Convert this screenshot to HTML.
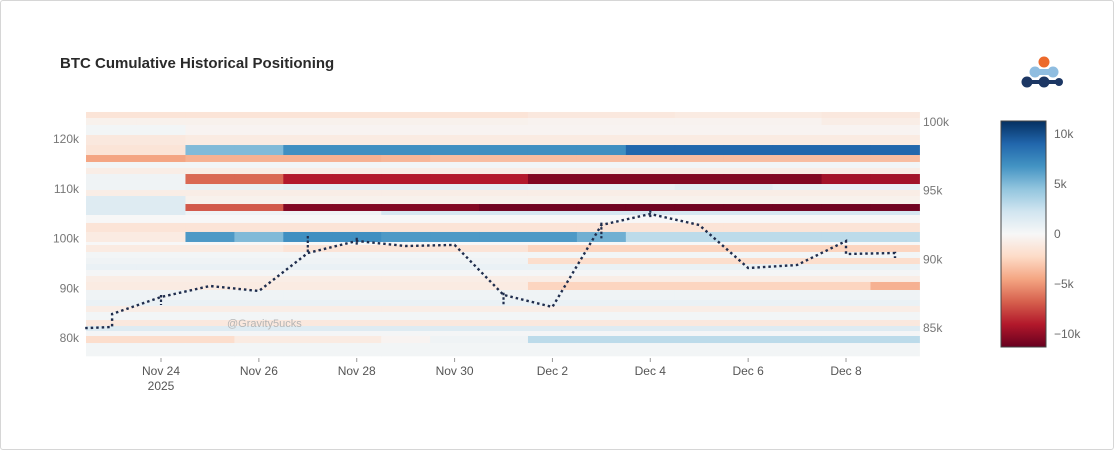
<!DOCTYPE html>
<html><head><meta charset="utf-8"><style>
html,body{margin:0;padding:0;background:#fff;}
#wrap{position:relative;width:1112px;height:448px;border:1px solid #d6d6d6;border-radius:3px;overflow:hidden;font-family:"Liberation Sans",Arial,sans-serif;}
svg text{font-family:"Liberation Sans",Arial,sans-serif;}
</style></head><body>
<div id="wrap">
<svg id="chart" width="1112" height="448"></svg>
</div>
<script>
// ---- data ----
const columnDays = [-1,0,1,2,3,4,5,6,7,8,9,10,11,12,13,14,15]; // days from Nov 24
const bandEdges = [125.43,124.22,122.81,120.80,118.79,116.78,115.38,114.17,112.96,110.95,109.75,108.54,106.93,105.53,104.72,103.12,101.31,99.30,98.69,97.29,96.08,94.87,93.67,92.46,91.26,89.65,87.64,86.43,85.23,83.62,82.41,81.41,80.40,78.99,76.38];
const bandValues = [
 [-1.5,-1.5,-1.5,-1.5,-1.5,-1.5,-1.5,-1.5,-1.5,-1.2,-1.2,-1.2,-1,-1,-1,-1.2,-1.2],
 [-0.5,-0.5,-0.5,-0.5,-0.5,-0.5,-0.5,-0.5,-0.5,-0.4,-0.4,-0.4,-0.4,-0.4,-0.4,-0.8,-0.8],
 [0.3,0.3,-0.3,-0.3,-0.3,-0.3,-0.3,-0.3,-0.3,-0.3,-0.3,-0.3,-0.3,-0.3,-0.3,-0.3,-0.3],
 [-1.2,-1.2,-1,-1,-1,-1,-1,-1,-1,-1,-1,-1,-1,-1,-1,-1,-1],
 [-1.5,-1.5,5,5,7,7,7,7,7,7,7,9,9,9,9,9,9],
 [-4.5,-4.5,-4,-4,-4,-4,-3.8,-3.5,-3.5,-3.5,-3.5,-3.5,-3.5,-3.5,-3.5,-3.5,-3.5],
 [0.3,0.3,0.3,0.3,0.3,0.3,0.3,0.3,0.3,0.3,0.3,0.3,0.3,0.3,0.3,0.3,0.3],
 [-0.8,-0.8,-0.8,-0.8,-0.8,-0.8,-0.8,-0.8,-0.8,-0.8,-0.8,-0.8,-0.8,-0.8,-0.8,-0.8,-0.8],
 [0.5,0.5,-6.5,-6.5,-9,-9,-9,-9,-9,-10.5,-10.5,-10.5,-10.5,-10.5,-10.5,-9.5,-9.5],
 [0.5,0.5,0.8,0.8,1,1,1,1,1,0.8,0.8,0.8,1.2,1.2,0.8,0.8,0.8],
 [-0.8,-0.8,-0.8,-0.8,-0.8,-0.8,-0.8,-0.8,-0.8,-0.8,-0.8,-0.8,-0.8,-0.8,-0.8,-0.8,-0.8],
 [1.5,1.5,-0.5,-0.5,-0.5,-0.5,-0.5,-0.5,-0.5,-0.5,-0.5,-0.5,-0.5,-0.5,-0.5,-0.5,-0.5],
 [1.5,1.5,-7,-7,-10.5,-10.5,-10.5,-10.5,-11,-11,-11,-11,-11,-11,-11,-11,-11],
 [1.5,1.5,0.5,0.5,0.5,0.5,2,2,2,2,2,2,2,2,2,2,2],
 [0,0,0,0,0,0,0,0,0,0,0,0,0,0,0,0,0],
 [-1.5,-1.5,-1.5,-1.5,-1.5,-1.5,-1.5,-1.5,-1.5,-1.5,-1.5,-1.5,-1.5,-1.5,-1.5,-1.5,-1.5],
 [-1,-1,6.5,5,7,7,6.5,6.5,6.5,6.5,5.5,3,3,3,3,3,3],
 [0,0,0,0,0,0,0,0,0,0,0,0,0,0,0,0,0],
 [-1,-1,-1,-1,-1.5,-1.5,-1.5,-1.5,-1.5,-2.5,-2.5,-2.5,-2.5,-2.5,-2.5,-2.5,-2.5],
 [0.3,0.3,0.3,0.3,0.3,0.3,0.3,0.3,0.3,0.3,0.3,0.3,0.3,0.3,0.3,0.3,0.3],
 [0.5,0.5,0.5,0.5,0.5,0.5,0.5,0.5,0.5,-2,-2,-2,-2,-2,-2,-2,-2],
 [0.8,0.8,0.8,0.8,0.8,0.8,0.8,0.8,0.8,0.8,0.8,0.8,0.8,0.8,0.8,0.8,0.8],
 [0.2,0.2,0.2,0.2,0.2,0.2,0.2,0.2,0.2,0.2,0.2,0.2,0.2,0.2,0.2,0.2,0.2],
 [-0.8,-0.8,-0.8,-0.8,-0.8,-0.8,-0.8,-0.8,-0.8,-0.8,-0.8,-0.8,-0.8,-0.8,-0.8,-0.8,-0.8],
 [-1,-1,-1,-1,-1,-1,-1,-1,-1,-2.5,-2.5,-2.5,-2.5,-2.5,-2.5,-2.5,-4],
 [0.5,0.5,0.5,0.5,0.5,0.5,0.5,0.5,0.5,0.5,0.5,0.5,0.5,0.5,0.5,0.5,0.5],
 [0.8,0.8,0.8,0.8,0.8,0.8,0.8,0.8,0.8,0.8,0.8,0.8,0.8,0.8,0.8,0.8,0.8],
 [-0.8,-0.8,-0.8,-0.8,-0.8,-0.8,-0.8,-0.8,-0.8,-0.8,-0.8,-0.8,-0.8,-0.8,-0.8,-0.8,-0.8],
 [0.3,0.3,0.3,0.3,0.3,0.3,0.3,0.3,0.3,0.3,0.3,0.3,0.3,0.3,0.3,0.3,0.3],
 [-1.2,-1.2,-1.2,-1.2,-1.2,-1.2,-1.2,-1.2,-1.2,-1.2,-1.2,-1.2,-1.2,-1.2,-1.2,-1.2,-1.2],
 [1.5,1.5,1.5,1.5,1.5,1.5,1.5,1.5,1.5,1.5,1.5,1.5,1.5,1.5,1.5,1.5,1.5],
 [0.2,0.2,0.2,0.2,0.2,0.2,0.2,0.2,0.2,0.2,0.2,0.2,0.2,0.2,0.2,0.2,0.2],
 [-2,-2,-2,-1,-1,-1,-0.3,0.5,0.5,3,3,3,3,3,3,3,3],
 [0.3,0.3,0.3,0.3,0.3,0.3,0.3,0.3,0.3,0.3,0.3,0.3,0.3,0.3,0.3,0.3,0.3]
];
const lineDays =   [-1.55,-1.0,-1.0,0,1,2,3,4,5,6,7,8,9,10,11,12,13,14,14,15,15];
const linePrices = [84.93,85.01,85.95,87.19,87.99,87.63,90.39,91.27,90.90,90.98,87.34,86.46,92.43,93.23,92.43,89.30,89.52,91.27,90.32,90.39,90.03];
const wickDays = [0,3,4,7,9,10];
const wickHigh = [87.34,91.63,91.5,87.5,92.6,93.5];
const wickLow =  [86.61,90.39,91.0,86.61,91.46,93.0];
const xTickDays = [0,2,4,6,8,10,12,14];
const xTickLabels = ["Nov 24","Nov 26","Nov 28","Nov 30","Dec 2","Dec 4","Dec 6","Dec 8"];
const leftTicks = [80,90,100,110,120];
const rightTicks = [85,90,95,100];
const cbTicks = [-10,-5,0,5,10];
const cbTickLabels = ["−10k","−5k","0","5k","10k"];

// ---- scales ----
const xS = d => 160 + d*48.93;
const yL = p => 337 - (p-80)*4.975;
const yR = p => 120 + (100-p)*13.74;
const zMax = 11.3;
const stops = [[-1,[103,0,31]],[-0.8,[178,24,43]],[-0.6,[214,96,77]],[-0.4,[244,165,130]],[-0.2,[253,219,199]],[0,[247,247,247]],[0.2,[209,229,240]],[0.4,[146,197,222]],[0.6,[67,147,195]],[0.8,[33,102,172]],[1,[5,48,97]]];
function color(v){
  let t=Math.max(-1,Math.min(1,v/zMax));
  for(let i=0;i<stops.length-1;i++){
    const a=stops[i],b=stops[i+1];
    if(t<=b[0]){const f=(t-a[0])/(b[0]-a[0]);
      const c=a[1].map((x,j)=>Math.round(x+(b[1][j]-x)*f));return `rgb(${c})`;}
  }
  return 'rgb(5,48,97)';
}
const NS='http://www.w3.org/2000/svg';
const svg=document.getElementById('chart');
function mk(tag,attrs,parent){const e=document.createElementNS(NS,tag);for(const k in attrs)e.setAttribute(k,attrs[k]);(parent||svg).appendChild(e);return e;}

// title
const title=mk('text',{x:59,y:67,'font-size':15,'font-weight':'bold',fill:'#2a2a2a'});
title.textContent='BTC Cumulative Historical Positioning';



// heatmap
const hm=mk('g',{});


bandValues.forEach((row,r)=>{
  const y1=yL(bandEdges[r]), y2=yL(bandEdges[r+1]);
  row.forEach((v,c)=>{
    const d=columnDays[c];
    const xa=c===0?85:xS(d-0.5), xb=Math.min(919,xS(d+0.5));
    const rc=mk('rect',{x:xa,y:y1,width:xb-xa+0.5,height:y2-y1+0.3,fill:color(v)},hm);
    
    
  });
});

// watermark
const wm=mk('text',{x:226,y:326,'font-size':11,fill:'#b5b5b5'});
wm.textContent='@Gravity5ucks';



// price line
let dpath=lineDays.map((d,i)=>(i?'L':'M')+xS(d).toFixed(1)+','+yR(linePrices[i]).toFixed(1)).join(' ');
const pl=mk('path',{d:dpath,fill:'none',stroke:'#1f2d4d','stroke-width':2.4,'stroke-dasharray':'2.5,3'});


wickDays.forEach((d,i)=>{
  const w=mk('line',{x1:xS(d),x2:xS(d),y1:yR(wickHigh[i]),y2:yR(wickLow[i]),stroke:'#1f2d4d','stroke-width':2.2,'stroke-dasharray':'2.5,2'});
  
  
});

// x ticks
xTickDays.forEach((d,i)=>{
  const x=xS(d);
  const tm=mk('line',{x1:x,x2:x,y1:357,y2:361,stroke:'#999','stroke-width':1});
  
  
  const t=mk('text',{x:x,y:374,'font-size':12,fill:'#555','text-anchor':'middle'});
  t.textContent=xTickLabels[i];
  
  
});
const yr=mk('text',{x:xS(0),y:389,'font-size':12,fill:'#555','text-anchor':'middle'});
yr.textContent='2025';



// left ticks
leftTicks.forEach(p=>{
  const t=mk('text',{x:78,y:yL(p)+4,'font-size':12,fill:'#777','text-anchor':'end'});
  t.textContent=p+'k';
  
  
});
// right ticks
rightTicks.forEach(p=>{
  const t=mk('text',{x:922,y:yR(p)+5,'font-size':12,fill:'#777'});
  t.textContent=p+'k';
  
  
});

// colorbar
const defs=mk('defs',{});
const lg=mk('linearGradient',{id:'cbg',x1:0,y1:1,x2:0,y2:0},defs);
stops.forEach(s=>mk('stop',{offset:((s[0]+1)/2*100)+'%','stop-color':`rgb(${s[1]})`},lg));
const cb=mk('rect',{x:1000,y:120,width:45,height:226,fill:'url(#cbg)',stroke:'#444','stroke-width':1});


cbTicks.forEach((v,i)=>{
  const y=233 - v/zMax*113;
  const t=mk('text',{x:1053,y:y+4,'font-size':12,fill:'#666'});
  t.textContent=cbTickLabels[i];
  
  
});

// logo
const logo=mk('g',{});


mk('circle',{cx:1043,cy:61,r:5.5,fill:'#ec6a2c'},logo);
mk('circle',{cx:1034,cy:71,r:5.5,fill:'#8fbde0'},logo);
mk('circle',{cx:1052,cy:71,r:5.5,fill:'#8fbde0'},logo);
mk('rect',{x:1034,y:68,width:18,height:6,fill:'#8fbde0'},logo);
mk('circle',{cx:1026,cy:81,r:5.5,fill:'#1c3764'},logo);
mk('circle',{cx:1043,cy:81,r:5.5,fill:'#1c3764'},logo);
mk('rect',{x:1026,y:79,width:32,height:4,fill:'#1c3764'},logo);
mk('circle',{cx:1058,cy:81,r:4,fill:'#1c3764'},logo);
</script>
</body></html>
